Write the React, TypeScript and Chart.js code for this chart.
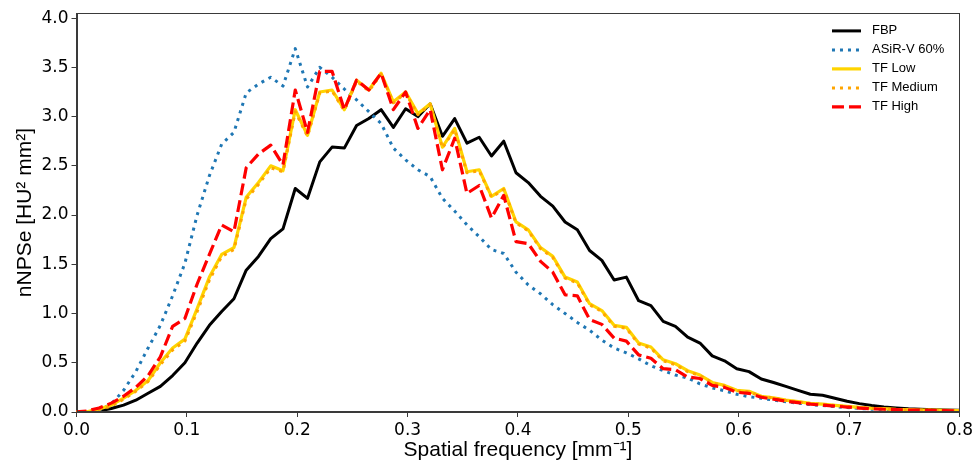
import React, { useEffect, useRef } from 'react';
import { Chart, registerables } from 'chart.js';

Chart.register(...registerables);

// Spatial frequency sampling grid [mm^-1] (bin spacing ~1/90 mm^-1)
const freq: number[] = Array.from({ length: 74 }, (_, k) => k / 90 - 0.0018);

const fbp = [
  0, 0, 0.01, 0.035, 0.07, 0.12, 0.19, 0.26, 0.37, 0.5,
  0.7, 0.88, 1.02, 1.15, 1.44, 1.58, 1.76, 1.86, 2.27, 2.17,
  2.54, 2.69, 2.68, 2.91, 2.98, 3.07, 2.89, 3.08, 3.0, 3.13,
  2.8, 2.98, 2.73, 2.79, 2.6, 2.75, 2.43, 2.33, 2.19, 2.09,
  1.93, 1.85, 1.64, 1.54, 1.34, 1.37, 1.13, 1.08, 0.92, 0.87,
  0.76, 0.7, 0.57, 0.52, 0.44, 0.41, 0.335, 0.3, 0.26, 0.22,
  0.18, 0.17, 0.14, 0.11, 0.085, 0.065, 0.05, 0.04, 0.032, 0.027,
  0.023, 0.02, 0.017, 0.015,
];

const asir60 = [
  0, 0, 0.02, 0.08, 0.22, 0.41, 0.65, 0.88, 1.18, 1.51,
  2.0, 2.4, 2.72, 2.84, 3.24, 3.33, 3.4, 3.31, 3.69, 3.3,
  3.5, 3.4, 3.28, 3.17, 3.05, 2.93, 2.68, 2.56, 2.46, 2.39,
  2.17, 2.04, 1.9, 1.78, 1.65, 1.61, 1.42, 1.29, 1.2, 1.09,
  1.0, 0.91, 0.83, 0.73, 0.65, 0.6, 0.54, 0.47, 0.42, 0.375,
  0.345, 0.285, 0.245, 0.215, 0.18, 0.155, 0.14, 0.12, 0.105, 0.09,
  0.075, 0.065, 0.055, 0.045, 0.036, 0.029, 0.025, 0.021, 0.018, 0.016,
  0.014, 0.012, 0.011, 0.01,
];

const tfLow = [
  0, 0.003, 0.03, 0.07, 0.14, 0.22, 0.32, 0.5, 0.65, 0.74,
  1.05, 1.37, 1.6, 1.67, 2.18, 2.33, 2.5, 2.45, 3.07, 2.81,
  3.25, 3.27, 3.07, 3.37, 3.27, 3.44, 3.15, 3.25, 3.03, 3.13,
  2.69, 2.88, 2.44, 2.46, 2.19, 2.27, 1.93, 1.85, 1.67, 1.58,
  1.37, 1.32, 1.1, 1.03, 0.88, 0.86, 0.7, 0.66, 0.53, 0.49,
  0.42, 0.375, 0.3, 0.27, 0.22, 0.21, 0.16, 0.145, 0.12, 0.105,
  0.088, 0.08, 0.068, 0.058, 0.047, 0.038, 0.034, 0.027, 0.024, 0.02,
  0.02, 0.017, 0.015, 0.013,
];

const tfMedium = [
  0, 0.002, 0.025, 0.06, 0.13, 0.21, 0.31, 0.48, 0.63, 0.72,
  1.02, 1.34, 1.58, 1.65, 2.16, 2.31, 2.48, 2.44, 3.05, 2.8,
  3.24, 3.26, 3.06, 3.36, 3.26, 3.43, 3.14, 3.24, 3.02, 3.12,
  2.68, 2.87, 2.43, 2.45, 2.18, 2.26, 1.92, 1.84, 1.66, 1.57,
  1.36, 1.31, 1.09, 1.02, 0.87, 0.85, 0.69, 0.65, 0.52, 0.48,
  0.41, 0.37, 0.295, 0.265, 0.215, 0.205, 0.158, 0.143, 0.118, 0.103,
  0.086, 0.078, 0.066, 0.056, 0.046, 0.037, 0.033, 0.026, 0.023, 0.02,
  0.019, 0.016, 0.014, 0.012,
];

const tfHigh = [
  0, 0.01, 0.04, 0.09, 0.16, 0.25, 0.37, 0.56, 0.87, 0.95,
  1.3, 1.6, 1.9, 1.83, 2.48, 2.62, 2.71, 2.51, 3.27, 2.84,
  3.46, 3.46, 3.07, 3.37, 3.27, 3.44, 3.07, 3.25, 2.88, 3.07,
  2.46, 2.78, 2.22, 2.3, 1.97, 2.2, 1.73, 1.71, 1.53, 1.42,
  1.19, 1.18, 0.94, 0.89, 0.75, 0.72, 0.58, 0.545, 0.44, 0.43,
  0.355, 0.34, 0.27, 0.25, 0.2, 0.19, 0.15, 0.13, 0.11, 0.095,
  0.08, 0.07, 0.06, 0.05, 0.04, 0.032, 0.028, 0.024, 0.02, 0.018,
  0.016, 0.014, 0.012, 0.011,
];

const seriesLabels = ['FBP', 'ASiR-V 60%', 'TF Low', 'TF Medium', 'TF High'];
const xTickValues = [0, 0.1, 0.2, 0.3, 0.4, 0.5, 0.6, 0.7, 0.8];
const yTickValues = [0, 0.5, 1.0, 1.5, 2.0, 2.5, 3.0, 3.5, 4.0];

const toPoints = (ys: number[]) => ys.map((y, i) => ({ x: freq[i], y }));

const frameAndLegend = {
  id: 'frameAndLegend',
  afterDraw(chart: any) {
    const { ctx, chartArea } = chart;
    ctx.save();
    ctx.strokeStyle = '#3a3a3a';
    ctx.lineWidth = 1;
    ctx.setLineDash([]);
    ctx.strokeRect(
      Math.round(chartArea.left) + 0.5,
      Math.round(chartArea.top) + 0.5,
      Math.round(chartArea.width) - 1,
      Math.round(chartArea.height) - 1
    );
    chart.data.datasets.forEach((ds: any, i: number) => {
      const y = chartArea.top + 17.7 + i * 19;
      const x0 = chartArea.right - 127.5;
      ctx.beginPath();
      ctx.setLineDash(ds.borderDash || []);
      ctx.lineCap = 'butt';
      ctx.strokeStyle = ds.borderColor;
      ctx.lineWidth = ds.borderWidth;
      ctx.moveTo(x0, y);
      ctx.lineTo(x0 + 29, y);
      ctx.stroke();
      ctx.setLineDash([]);
      ctx.fillStyle = '#000';
      ctx.font = '13px "Liberation Sans", Arial, sans-serif';
      ctx.textBaseline = 'middle';
      ctx.textAlign = 'left';
      ctx.fillText(ds.label, x0 + 40, y);
    });
    ctx.restore();
  },
};

export default function App() {
  const ref = useRef<HTMLCanvasElement | null>(null);

  useEffect(() => {
    if (!ref.current) return;
    const common = {
      pointRadius: 0,
      tension: 0,
      fill: false,
      borderJoinStyle: 'round' as const,
      borderCapStyle: 'butt' as const,
    };
    const chart = new Chart(ref.current, {
      type: 'line',
      data: {
        datasets: [
          { ...common, label: seriesLabels[0], data: toPoints(fbp), borderColor: '#000000', borderWidth: 3, order: 5 },
          { ...common, label: seriesLabels[1], data: toPoints(asir60), borderColor: '#1f77b4', borderWidth: 3, borderDash: [3, 5], order: 4 },
          { ...common, label: seriesLabels[2], data: toPoints(tfLow), borderColor: '#ffd400', borderWidth: 3.2, order: 3 },
          { ...common, label: seriesLabels[3], data: toPoints(tfMedium), borderColor: '#ffa500', borderWidth: 3, borderDash: [3, 5], order: 2 },
          { ...common, label: seriesLabels[4], data: toPoints(tfHigh), borderColor: '#ff0000', borderWidth: 3.2, borderDash: [12, 5], order: 1 },
        ],
      },
      options: {
        animation: false,
        responsive: false,
        devicePixelRatio: 1,
        layout: { padding: { left: 0, right: 15.5, top: 13, bottom: 0 } },
        plugins: {
          legend: { display: false },
          tooltip: { enabled: false },
        },
        scales: {
          x: {
            type: 'linear',
            min: 0,
            max: 0.8,
            afterBuildTicks: (axis: any) => {
              axis.ticks = xTickValues.map((v) => ({ value: v }));
            },
            afterFit: (s: any) => {
              s.height = 49;
            },
            ticks: {
              autoSkip: false,
              maxRotation: 0,
              padding: 3,
              color: '#000',
              font: { family: '"DejaVu Sans", sans-serif', size: 17 },
              callback: (v: any) => Number(v).toFixed(1),
            },
            grid: { display: true, drawOnChartArea: false, drawTicks: true, tickLength: 5, color: '#3a3a3a' },
            border: { display: true, color: '#3a3a3a', width: 1 },
            title: {
              display: true,
              text: 'Spatial frequency [mm⁻¹]',
              color: '#000',
              font: { family: '"Liberation Sans", Arial, sans-serif', size: 21, lineHeight: 1 },
              padding: { top: 0, bottom: 0 },
            },
          },
          y: {
            type: 'linear',
            min: 0,
            max: 4.05,
            afterBuildTicks: (axis: any) => {
              axis.ticks = yTickValues.map((v) => ({ value: v }));
            },
            afterFit: (s: any) => {
              s.width = 76.5;
            },
            ticks: {
              autoSkip: false,
              padding: 3,
              color: '#000',
              font: { family: '"DejaVu Sans", sans-serif', size: 17 },
              callback: (v: any) => Number(v).toFixed(1),
            },
            grid: { display: true, drawOnChartArea: false, drawTicks: true, tickLength: 5, color: '#3a3a3a' },
            border: { display: true, color: '#3a3a3a', width: 1 },
            title: {
              display: true,
              text: 'nNPSe [HU² mm²]',
              color: '#000',
              font: { family: '"Liberation Sans", Arial, sans-serif', size: 21, lineHeight: 1 },
              padding: { top: 15, bottom: 0 },
            },
          },
        },
      },
      plugins: [frameAndLegend],
    });
    return () => chart.destroy();
  }, []);

  return (
    <div style={{ position: 'absolute', left: 0, top: 0, width: 976, height: 461, background: '#fff' }}>
      <canvas ref={ref} width={976} height={461} style={{ display: 'block', width: 976, height: 461 }} />
    </div>
  );
}
